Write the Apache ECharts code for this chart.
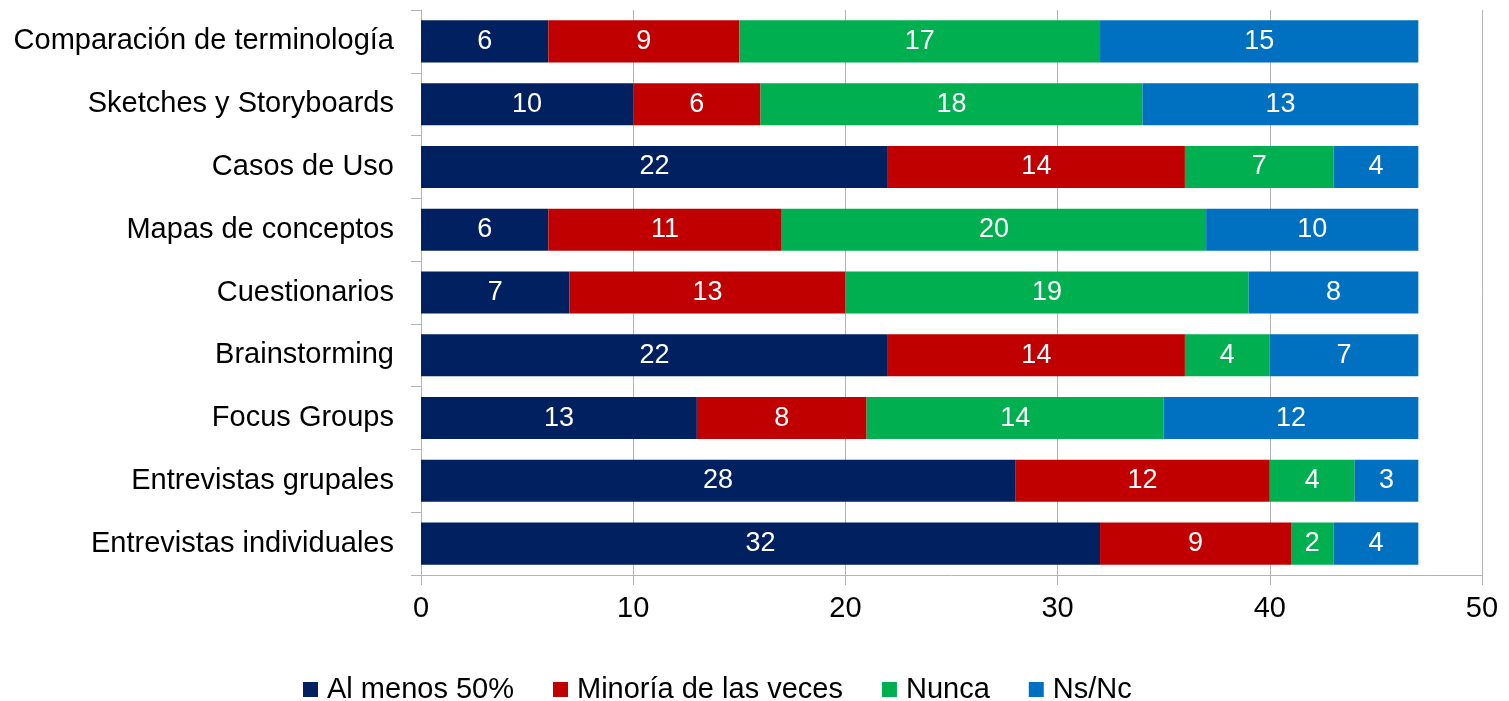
<!DOCTYPE html>
<html>
<head>
<meta charset="utf-8">
<script src="https://cdn.jsdelivr.net/npm/echarts@6/dist/echarts.min.js"></script>
<style>
  html, body { margin: 0; padding: 0; background: #fff; }
  #chart { width: 1509px; height: 701px; }
</style>
</head>
<body>
<div id="chart"></div>
<script>
  // categories, bottom to top
  var categories = ['Entrevistas individuales', 'Entrevistas grupales', 'Focus Groups', 'Brainstorming',
    'Cuestionarios', 'Mapas de conceptos', 'Casos de Uso', 'Sketches y Storyboards', 'Comparación de terminología']
  var alMenos = [32, 28, 13, 22, 7, 6, 22, 10, 6]
  var minoria = [9, 12, 8, 14, 13, 11, 14, 6, 9]
  var nunca = [2, 4, 14, 4, 19, 20, 7, 18, 17]
  var nsnc = [4, 3, 12, 7, 8, 10, 4, 13, 15]
  var seriesNames = ['Al menos 50%', 'Minoría de las veces', 'Nunca', 'Ns/Nc']
  var colors = ['#002060', '#C00000', '#00B050', '#0070C0']

  var font = 'Liberation Sans, Arial, sans-serif'
  var chart = echarts.init(document.getElementById('chart'))

  function mk(name, data, i) {
    return {
      name: name,
      type: 'bar',
      stack: 'total',
      barWidth: '67%',
      data: data,
      itemStyle: { color: colors[i] },
      label: {
        show: true,
        position: 'inside',
        color: '#fff',
        fontFamily: font,
        fontSize: 27
      }
    }
  }

  chart.setOption({
    animation: false,
    textStyle: { fontFamily: font },
    grid: { left: 421, right: 27, top: 10, bottom: 126 },
    legend: {
      left: 298,
      top: 670,
      itemWidth: 15,
      itemHeight: 15,
      itemGap: 39,
      icon: 'rect',
      textStyle: { fontSize: 29, color: '#000', fontFamily: font, padding: [0, 0, 0, 4] },
      data: seriesNames
    },
    xAxis: {
      type: 'value',
      min: 0,
      max: 50,
      interval: 10,
      axisLine: { show: true, lineStyle: { color: '#b3b3b3' } },
      axisTick: { show: true, length: 10, lineStyle: { color: '#b3b3b3' } },
      splitLine: { show: true, lineStyle: { color: '#b3b3b3' } },
      axisLabel: { fontSize: 29, color: '#000', margin: 19, fontFamily: font }
    },
    yAxis: {
      type: 'category',
      data: categories,
      axisLine: { show: true, lineStyle: { color: '#b3b3b3' } },
      axisTick: { show: true, length: 10, lineStyle: { color: '#b3b3b3' } },
      axisLabel: { fontSize: 29, color: '#000', margin: 27, fontFamily: font }
    },
    series: [
      mk(seriesNames[0], alMenos, 0),
      mk(seriesNames[1], minoria, 1),
      mk(seriesNames[2], nunca, 2),
      mk(seriesNames[3], nsnc, 3)
    ]
  })
</script>
</body>
</html>
